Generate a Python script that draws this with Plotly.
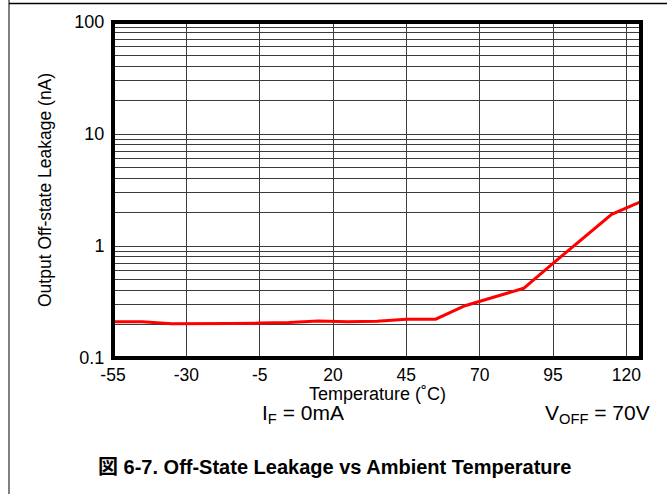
import plotly.graph_objects as go

# Data
temperature_c = [-55, -45, -35, -25, -15, -5, 5, 15, 25, 35, 45, 55, 65, 75, 85, 95, 105, 115, 125]
leakage_na = [0.211, 0.211, 0.202, 0.201, 0.203, 0.205, 0.207, 0.214, 0.211, 0.213,
              0.222, 0.222, 0.293, 0.35, 0.419, 0.70, 1.15, 1.92, 2.49]

x_tickvals = [-55, -30, -5, 20, 45, 70, 95, 120]
x_ticktext = ["-55", "-30", "-5", "20", "45", "70", "95", "120"]
y_tickvals = [0.1, 1, 10, 100]
y_ticktext = ["0.1", "1", "10", "100"]

FONT = "Liberation Sans, Arial, Noto Sans CJK JP, sans-serif"
GRID = "#3c3c3c"

L, R, T, B = 113, 26, 22, 136
W, H = 667, 494
PW, PH = W - L - R, H - T - B


def px(x):
    return (x - L) / PW


def py(y):
    return (H - B - y) / PH


fig = go.Figure()
fig.add_trace(go.Scatter(
    x=temperature_c, y=leakage_na, mode="lines",
    line=dict(color="#ff0000", width=3), showlegend=False,
))

fig.update_layout(
    width=W, height=H,
    margin=dict(l=L, r=R, t=T, b=B),
    paper_bgcolor="white", plot_bgcolor="white",
    font=dict(family=FONT, color="black", size=18),
    xaxis=dict(
        range=[-55, 125], tickvals=x_tickvals, ticktext=x_ticktext, showgrid=True,
        gridcolor=GRID, gridwidth=1.2, zeroline=False, showline=False,
        ticks="outside", ticklen=1, tickcolor="rgba(0,0,0,0)",
        tickfont=dict(size=17.5),
    ),
    yaxis=dict(
        type="log", range=[-1, 2], tickvals=y_tickvals, ticktext=y_ticktext,
        showgrid=True, gridcolor=GRID, gridwidth=1.2, zeroline=False, showline=False,
        ticks="outside", ticklen=4, tickcolor="rgba(0,0,0,0)",
        tickfont=dict(size=18),
        minor=dict(dtick="D1", showgrid=True, gridcolor=GRID, gridwidth=1.2),
    ),
    shapes=[
        dict(type="rect", xref="paper", yref="paper", x0=0, x1=1, y0=0, y1=1,
             line=dict(color="black", width=4), layer="above"),
        dict(type="line", xref="paper", yref="paper", x0=px(9), x1=px(9),
             y0=py(0), y1=py(494), line=dict(color="#808080", width=2)),
        dict(type="line", xref="paper", yref="paper", x0=px(9), x1=px(667),
             y0=py(3.5), y1=py(3.5), line=dict(color="black", width=1.5)),
    ],
    annotations=[
        dict(text="Temperature (˚C)", xref="paper", yref="paper",
             x=px(377), y=py(394), xanchor="center", yanchor="middle",
             showarrow=False, font=dict(size=18)),
        dict(text="Output Off-state Leakage (nA)", xref="paper", yref="paper",
             x=px(45), y=py(190), xanchor="center", yanchor="middle",
             textangle=-90, showarrow=False, font=dict(size=17.5)),
        dict(text="I<sub>F</sub> = 0mA", xref="paper", yref="paper",
             x=px(303), y=py(414), xanchor="center", yanchor="middle",
             showarrow=False, font=dict(size=21)),
        dict(text="V<sub>OFF</sub> = 70V", xref="paper", yref="paper",
             x=px(652), y=py(414), xanchor="right", yanchor="middle",
             showarrow=False, font=dict(size=21)),
        dict(text="<b>図 6-7. Off-State Leakage vs Ambient Temperature</b>",
             xref="paper", yref="paper", x=px(334), y=py(467),
             xanchor="center", yanchor="middle", showarrow=False,
             font=dict(size=20)),
    ],
)

fig.write_html("out.html")
